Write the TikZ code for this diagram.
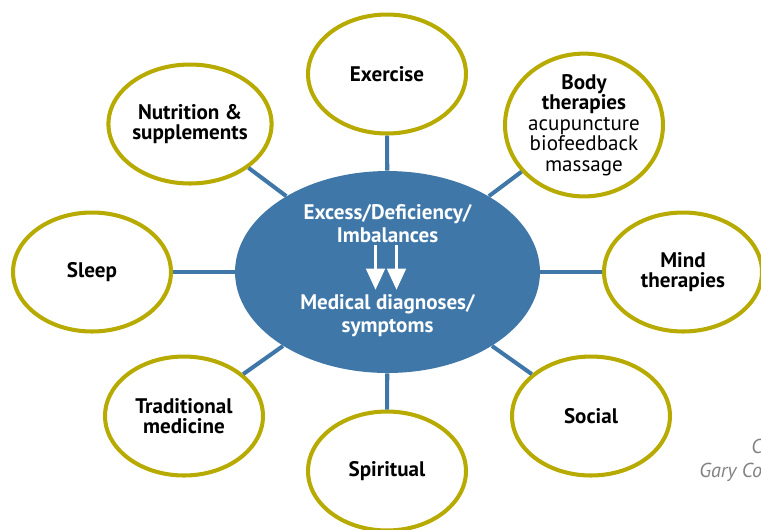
\documentclass[tikz,border=0pt]{standalone}
\usepackage{fontspec}
\setmainfont{PT Sans}
\usepackage{tikz}
\usetikzlibrary{shapes.geometric}
\usetikzlibrary{arrows.meta}

\definecolor{hubblue}{RGB}{62,119,168}
\definecolor{ringolive}{RGB}{183,170,0}
\definecolor{creditgray}{RGB}{130,130,130}

\begin{document}
\begin{tikzpicture}[x=0.02cm, y=-0.02cm,
    factor/.style={ellipse, draw=ringolive, line width=2.3pt, fill=white,
      minimum width=3.16cm, minimum height=2.38cm, inner sep=0pt,
      align=center, font=\fontsize{12}{11.6}\selectfont\bfseries},
    hub/.style={ellipse, fill=hubblue, minimum width=6.1cm, minimum height=4.04cm},
    hubtext/.style={text=white, align=center, inner sep=1pt,
      font=\fontsize{12}{13}\selectfont\bfseries},
    link/.style={draw=hubblue, line width=2.3pt},
    credit/.style={text=creditgray, font=\fontsize{11.5}{12}\selectfont\itshape, inner sep=0pt}]
    \useasboundingbox (0,0) rectangle (761,529);
    % centre
    \node[hub] (hub) at (387.5,272) {};
    \node[hubtext] (cause) at (387.5,224) {Excess/Deficiency/\\Imbalances};
    \node[hubtext] (effect) at (387.5,316) {Medical diagnoses/\\symptoms};
    \draw[white, line width=1.8pt, -{Triangle[width=10.5pt, length=12pt]}]
      ([xshift=-0.24cm]cause.south) -- ([xshift=-0.24cm, yshift=0.06cm]effect.north);
    \draw[white, line width=1.8pt, -{Triangle[width=10.5pt, length=12pt]}]
      ([xshift=0.18cm]cause.south) -- ([xshift=0.18cm, yshift=0.06cm]effect.north);
    % factors
    \node[factor] (exercise) at (387,74) {Exercise};
    \node[factor] (nutrition) at (190,124) {Nutrition \&\\supplements};
    \node[factor] (body) at (584,125) {Body\\therapies\\
      {\fontseries{m}\selectfont acupuncture}\\
      {\fontseries{m}\selectfont biofeedback}\\
      {\fontseries{m}\selectfont massage}};
    \node[factor] (sleep) at (92,272) {Sleep};
    \node[factor] (mind) at (683,272) {Mind\\therapies};
    \node[factor] (traditional) at (184,416) {Traditional\\medicine};
    \node[factor] (spiritual) at (387,471) {Spiritual};
    \node[factor] (social) at (591,416) {Social};
    % links
    \foreach \f in {exercise, nutrition, body, sleep, mind, traditional, spiritual, social}
      \draw[link] (hub) -- (\f);
    % credit
    \node[credit, anchor=west] (creditA) at (751,446) {C};
    \node[credit, anchor=west] (creditB) at (699,472) {Gary Co};
  \end{tikzpicture}
\end{document}
